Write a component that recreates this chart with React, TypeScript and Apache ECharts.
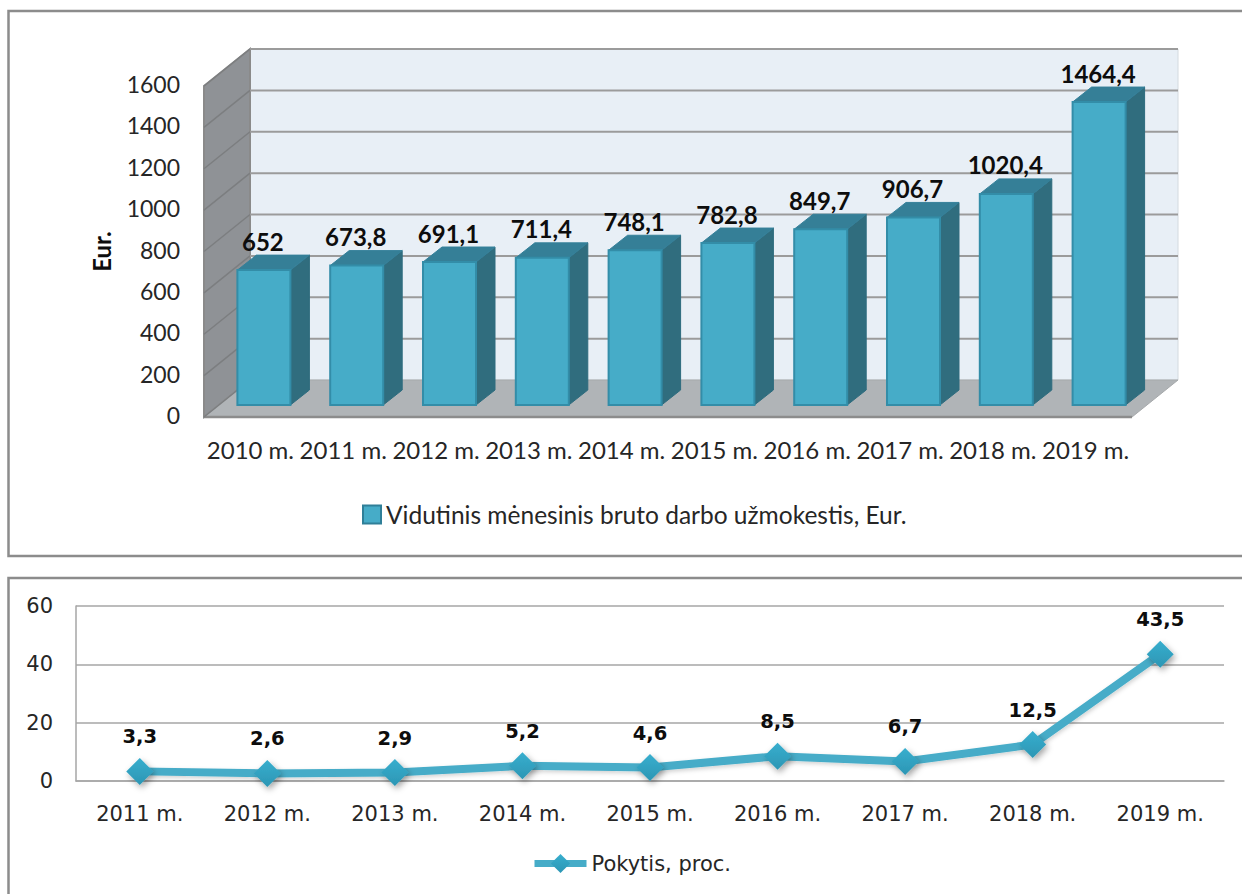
import React, { useEffect, useRef } from "react";
import * as echarts from "echarts";

const years10 = ["2010 m.", "2011 m.", "2012 m.", "2013 m.", "2014 m.", "2015 m.", "2016 m.", "2017 m.", "2018 m.", "2019 m."];
const salary = [652, 673.8, 691.1, 711.4, 748.1, 782.8, 849.7, 906.7, 1020.4, 1464.4];
const salaryTicks = [0, 200, 400, 600, 800, 1000, 1200, 1400, 1600];
const years9 = ["2011 m.", "2012 m.", "2013 m.", "2014 m.", "2015 m.", "2016 m.", "2017 m.", "2018 m.", "2019 m."];
const change = [3.3, 2.6, 2.9, 5.2, 4.6, 8.5, 6.7, 12.5, 43.5];
const salaryName = "Vidutinis mėnesinis bruto darbo užmokestis, Eur.";
const changeName = "Pokytis, proc.";

const WALL_DX = 46;
const WALL_DY = 37;
const BAR_OFF_X = 13.5;
const BAR_OFF_Y = 12;
const BAR_W = 53;
const BAR_DX = 19;
const BAR_DY = 15;
const TOP_FONT = "Lato, Carlito, sans-serif";
const LOW_FONT = "'DejaVu Sans', sans-serif";
const TEXT = "#262626";
const TEAL = "#46ACC8";

const fmt = (v: number) => String(v).replace(".", ",");

const poly = (points: number[][], fill: string, stroke?: string, lineWidth = 1) => ({
  type: "polygon",
  shape: { points },
  style: { fill, stroke: stroke ?? "none", lineWidth },
});

const renderWalls = (params: any) => {
  const { x, y, width, height } = params.coordSys;
  const l = x, r = x + width, t = y, b = y + height;
  return {
    type: "group",
    children: [
      poly([[l + WALL_DX, t - WALL_DY], [r + WALL_DX, t - WALL_DY], [r + WALL_DX, b - WALL_DY], [l + WALL_DX, b - WALL_DY]], "#E8EFF6", "#D4DAE0", 1),
      poly([[l, t], [l + WALL_DX, t - WALL_DY], [l + WALL_DX, b - WALL_DY], [l, b]], "#8F9296", "#8A8A8A", 2),
      poly([[l, b], [l + WALL_DX, b - WALL_DY], [r + WALL_DX, b - WALL_DY], [r, b]], "#B0B4B7", "#A6A9AB", 1),
      { type: "line", shape: { x1: l, y1: b, x2: r, y2: b }, style: { stroke: "#8C8C8C", lineWidth: 2.5 } },
    ],
  };
};

const renderGridLine = (params: any, api: any) => {
  const { x, width } = params.coordSys;
  const py = api.coord([0, api.value(1)])[1];
  const children: any[] = [
    { type: "line", shape: { x1: x, y1: py, x2: x + WALL_DX, y2: py - WALL_DY }, style: { stroke: "#7C7E80", lineWidth: 1.5 } },
  ];
  if (api.value(1) > 0) {
    children.push({
      type: "line",
      shape: { x1: x + WALL_DX, y1: py - WALL_DY, x2: x + width + WALL_DX, y2: py - WALL_DY },
      style: { stroke: "#9B9B9B", lineWidth: 2 },
    });
  }
  return { type: "group", children };
};

const renderBar = (_params: any, api: any) => {
  const i = api.value(0);
  const v = api.value(1);
  const top = api.coord([i, v]);
  const base = api.coord([i, 0]);
  const l = top[0] - BAR_W / 2 + BAR_OFF_X;
  const r = l + BAR_W;
  const t = top[1] - BAR_OFF_Y;
  const b = base[1] - BAR_OFF_Y;
  return {
    type: "group",
    children: [
      poly([[r, t], [r + BAR_DX, t - BAR_DY], [r + BAR_DX, b - BAR_DY], [r, b]], "#306D7E", "#2E6C7E", 1),
      poly([[l, t], [l + BAR_DX, t - BAR_DY], [r + BAR_DX, t - BAR_DY], [r, t]], "#357F97", "#35809A", 1),
      { type: "rect", shape: { x: l, y: t, width: BAR_W, height: b - t }, style: { fill: TEAL, stroke: "#338DA8", lineWidth: 2 } },
      {
        type: "text",
        x: (l + r) / 2 - 1,
        y: t - 29,
        style: { text: fmt(v), font: `bold 24px ${TOP_FONT}`, fill: "#0D0D0D", align: "center", verticalAlign: "middle" },
      },
    ],
  };
};

export default function App() {
  const ref = useRef<HTMLDivElement>(null);
  useEffect(() => {
    const chart = echarts.init(ref.current!, undefined, { renderer: "svg" });
    chart.setOption({
      animation: false,
      backgroundColor: "#fff",
      graphic: [
        { type: "rect", z: -1, shape: { x: 8.5, y: 11, width: 1300, height: 545 }, style: { fill: "none", stroke: "#8C8C8C", lineWidth: 2.5 } },
        { type: "rect", z: -1, shape: { x: 8.5, y: 578, width: 1300, height: 400 }, style: { fill: "none", stroke: "#8C8C8C", lineWidth: 2.5 } },
      ],
      grid: [
        { left: 204, top: 86, width: 928, height: 331 },
        { left: 76, top: 606, width: 1148, height: 175 },
      ],
      xAxis: [
        {
          type: "category", gridIndex: 0, data: years10,
          axisLine: { show: false }, axisTick: { show: false },
          axisLabel: { margin: 20, color: TEXT, fontFamily: TOP_FONT, fontSize: 24, interval: 0 },
        },
        {
          type: "category", gridIndex: 1, data: years9,
          axisLine: { show: true, lineStyle: { color: "#A6A6A6", width: 1.5 } }, axisTick: { show: false },
          axisLabel: { margin: 22, color: TEXT, fontFamily: LOW_FONT, fontSize: 21, interval: 0 },
        },
      ],
      yAxis: [
        {
          type: "value", gridIndex: 0, min: 0, max: 1600, interval: 200,
          name: "Eur.", nameLocation: "middle", nameRotate: 90, nameGap: 91,
          nameTextStyle: { fontFamily: TOP_FONT, fontSize: 24, fontWeight: "bold", color: "#0D0D0D" },
          axisLine: { show: false }, axisTick: { show: false }, splitLine: { show: false },
          axisLabel: {
            margin: 24,
            formatter: (v: number) => `{t|${v}}`,
            rich: { t: { color: TEXT, fontFamily: TOP_FONT, fontSize: 23, padding: [0, 0, 4, 0] } },
          },
        },
        {
          type: "value", gridIndex: 1, min: 0, max: 60, interval: 20,
          axisLine: { show: true, lineStyle: { color: "#A6A6A6", width: 1.5 } }, axisTick: { show: false },
          splitLine: { show: true, lineStyle: { color: "#A6A6A6", width: 1.5 } },
          axisLabel: { margin: 23, color: TEXT, fontFamily: LOW_FONT, fontSize: 21 },
        },
      ],
      legend: [
        {
          data: [salaryName], left: 357, top: 497, itemWidth: 18, itemHeight: 18, icon: "rect",
          itemStyle: { color: TEAL, borderColor: "#2F7F98", borderWidth: 2 },
          textStyle: { fontFamily: TOP_FONT, fontSize: 24.5, color: TEXT },
        },
        {
          data: [changeName], left: 526, top: 848, itemWidth: 52, itemHeight: 24,
          lineStyle: { color: TEAL, width: 7 },
          textStyle: { fontFamily: LOW_FONT, fontSize: 21, color: TEXT },
        },
      ],
      series: [
        {
          type: "custom", name: "walls", xAxisIndex: 0, yAxisIndex: 0, clip: false, z: 1,
          renderItem: renderWalls, data: [[0, 0]], silent: true,
        },
        {
          type: "custom", name: "gridLines", xAxisIndex: 0, yAxisIndex: 0, clip: false, z: 2,
          renderItem: renderGridLine, data: salaryTicks.map((t) => [0, t]), silent: true,
        },
        {
          type: "custom", name: salaryName, xAxisIndex: 0, yAxisIndex: 0, clip: false, z: 3,
          renderItem: renderBar, data: salary.map((v, i) => [i, v]), itemStyle: { color: TEAL },
          encode: { x: 0, y: 1 },
        },
        {
          type: "line", name: changeName, xAxisIndex: 1, yAxisIndex: 1, data: change, z: 4,
          symbol: "diamond", symbolSize: 27,
          lineStyle: { color: TEAL, width: 8, shadowColor: "rgba(0,0,0,0.18)", shadowBlur: 4, shadowOffsetX: 1, shadowOffsetY: 2 },
          itemStyle: {
            color: new echarts.graphic.LinearGradient(0, 0, 0, 1, [
              { offset: 0, color: "#38AECE" },
              { offset: 1, color: "#2C96B4" },
            ]),
            shadowColor: "rgba(0,0,0,0.35)", shadowBlur: 6, shadowOffsetX: 2, shadowOffsetY: 3,
          },
          label: {
            show: true, position: "top", distance: 11, color: "#0D0D0D",
            fontFamily: LOW_FONT, fontWeight: "bold", fontSize: 19.5,
            formatter: (p: any) => fmt(p.value),
          },
        },
      ],
    });
    return () => chart.dispose();
  }, []);
  return <div ref={ref} style={{ position: "fixed", left: 0, top: 0, width: 1242, height: 894 }} />;
}
